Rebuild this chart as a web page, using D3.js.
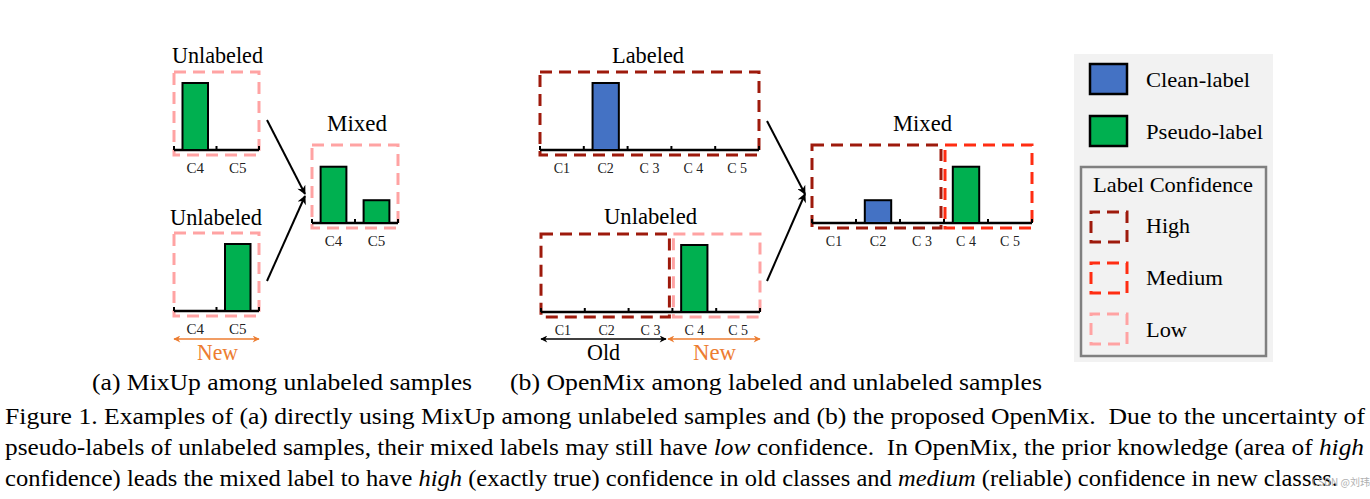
<!DOCTYPE html>
<html><head><meta charset="utf-8">
<script src="https://cdn.jsdelivr.net/npm/d3@7/dist/d3.min.js"></script>
<style>
body{margin:0;background:#fff}
svg text{white-space:pre}
</style>
</head><body>
<svg id="chart" width="1370" height="499" font-family="Liberation Serif, Times New Roman, serif"></svg>
<script>
// ---------------- DATA ----------------
const catsA = ["C4", "C5"];
const catsB = ["C1", "C2", "C 3", "C 4", "C 5"];

const valsUnlabeledA1 = [1, 0];
const valsUnlabeledA2 = [0, 1];
const valsMixedA      = [0.84, 0.34];
const typesA          = ["pseudo", "pseudo"];

const valsLabeledB    = [0, 1, 0, 0, 0];
const typesLabeledB   = ["clean", "clean", "clean", "clean", "clean"];
const valsUnlabeledB  = [0, 0, 0, 1, 0];
const typesUnlabeledB = ["pseudo", "pseudo", "pseudo", "pseudo", "pseudo"];
const valsMixedB      = [0, 0.34, 0, 0.84, 0];
const typesMixedB     = ["clean", "clean", "clean", "pseudo", "pseudo"];

// confidence regions: [first category index, last category index, level]
const confUnlabeledA = [[0, 1, "Low"]];
const confMixedA     = [[0, 1, "Low"]];
const confLabeledB   = [[0, 4, "High"]];
const confUnlabeledB = [[0, 2, "High"], [3, 4, "Low"]];
const confMixedB     = [[0, 2, "High"], [3, 4, "Medium"]];

const legendLabelTypes = ["Clean-label", "Pseudo-label"];
const legendConfLevels = ["High", "Medium", "Low"];

const subCaptions = ["(a) MixUp among unlabeled samples", "(b) OpenMix among labeled and unlabeled samples"];
const captionLines = [
  [["Figure 1. Examples of (a) directly using MixUp among unlabeled samples and (b) the proposed OpenMix.  Due to the uncertainty of", false]],
  [["pseudo-labels of unlabeled samples, their mixed labels may still have ", false], ["low", true],
   [" confidence.  In OpenMix, the prior knowledge (area of ", false], ["high", true]],
  [["confidence) leads the mixed label to have ", false], ["high", true],
   [" (exactly true) confidence in old classes and ", false], ["medium", true],
   [" (reliable) confidence in new classes.", false]]
];

// ---------------- STYLES ----------------
const SERIF = "Liberation Serif";
const barColor  = {clean: "#4472c4", pseudo: "#00b050"};
const confColor = {High: "#9e1a0c", Medium: "#ff2d12", Low: "#ffa3a3"};
const orange = "#ed7d31";

const svg = d3.select("#chart");
const defs = svg.append("defs");
function marker(id, color, w, h) {
  defs.append("marker").attr("id", id).attr("viewBox", "0 0 10 10")
    .attr("refX", 9).attr("refY", 5).attr("markerWidth", w).attr("markerHeight", h)
    .attr("markerUnits", "userSpaceOnUse").attr("orient", "auto-start-reverse")
    .append("path").attr("d", "M0,0 L10,5 L0,10 L3,5 Z").attr("fill", color);
}
marker("arrK", "#000", 11, 9);
marker("arrKs", "#000", 8, 7);
marker("arrO", orange, 8, 7);

function label(s, x0, x1, yb, size, opts = {}) {
  const t = svg.append("text").attr("x", x0).attr("y", yb).attr("font-family", SERIF)
    .attr("font-size", size).attr("fill", opts.fill || "#000")
    .attr("textLength", x1 - x0).attr("lengthAdjust", "spacingAndGlyphs");
  if (opts.italic) t.attr("font-style", "italic");
  t.text(s);
  return t;
}

// ---------------- PANELS ----------------
const panels = [
  {cats: catsA, vals: valsUnlabeledA1, types: typesA, conf: confUnlabeledA, x0: 174, x1: 259, axisY: 150,
   title: "Unlabeled", tx: [172, 263], ty: 63, tick: 15},
  {cats: catsA, vals: valsUnlabeledA2, types: typesA, conf: confUnlabeledA, x0: 174, x1: 259, axisY: 311,
   title: "Unlabeled", tx: [170, 262], ty: 225, tick: 15},
  {cats: catsA, vals: valsMixedA, types: typesA, conf: confMixedA, x0: 312, x1: 398, axisY: 223,
   title: "Mixed", tx: [327, 387], ty: 131, tick: 15},
  {cats: catsB, vals: valsLabeledB, types: typesLabeledB, conf: confLabeledB, x0: 540, x1: 759, axisY: 150,
   title: "Labeled", tx: [612, 684], ty: 63, tick: 14},
  {cats: catsB, vals: valsUnlabeledB, types: typesUnlabeledB, conf: confUnlabeledB, x0: 541, x1: 760, axisY: 312,
   title: "Unlabeled", tx: [604, 697], ty: 224, tick: 14},
  {cats: catsB, vals: valsMixedB, types: typesMixedB, conf: confMixedB, x0: 812, x1: 1032, axisY: 223,
   title: "Mixed", tx: [893, 952], ty: 131, tick: 14}
];

panels.forEach(p => {
  const x = d3.scaleBand().domain(p.cats).range([p.x0, p.x1]).paddingInner(0.4).paddingOuter(0.2);
  const y = d3.scaleLinear().domain([0, 1]).range([p.axisY, p.axisY - 67]);
  const step = x.step();
  const g = svg.append("g");
  const n = p.cats.length;

  // confidence boxes
  g.selectAll("rect.conf").data(p.conf).join("rect").attr("class", "conf")
    .attr("x", d => p.x0 + d[0] * step + (d[0] > 0 ? 1 : 0))
    .attr("width", d => (d[1] - d[0] + 1) * step - (d[0] > 0 ? 1 : 0) - (d[1] < n - 1 ? 3 : 0))
    .attr("y", p.axisY - 78).attr("height", 83)
    .attr("fill", "none").attr("stroke", d => confColor[d[2]])
    .attr("stroke-width", 3).attr("stroke-dasharray", "12 7");

  // axis baseline with boundary ticks
  g.append("line").attr("x1", p.x0).attr("x2", p.x1).attr("y1", p.axisY).attr("y2", p.axisY)
    .attr("stroke", "#000").attr("stroke-width", 2.5);
  g.selectAll("line.tk").data(d3.range(n + 1)).join("line").attr("class", "tk")
    .attr("x1", i => p.x0 + i * step).attr("x2", i => p.x0 + i * step)
    .attr("y1", p.axisY).attr("y2", p.axisY - 4).attr("stroke", "#000").attr("stroke-width", 2);

  // bars
  const data = p.cats.map((c, i) => ({c, v: p.vals[i], t: p.types[i]})).filter(d => d.v > 0);
  g.selectAll("rect.bar").data(data).join("rect").attr("class", "bar")
    .attr("x", d => x(d.c)).attr("width", x.bandwidth())
    .attr("y", d => y(d.v)).attr("height", d => y(0) - y(d.v))
    .attr("fill", d => barColor[d.t]).attr("stroke", "#000").attr("stroke-width", 2);

  // category labels
  g.selectAll("text.cat").data(p.cats).join("text").attr("class", "cat")
    .attr("x", c => x(c) + x.bandwidth() / 2).attr("y", p.axisY + 23).attr("font-family", SERIF)
    .attr("text-anchor", "middle").attr("font-size", p.tick).attr("fill", "#222").text(c => c);

  // title
  label(p.title, p.tx[0], p.tx[1], p.ty, 24);
});

// mixing arrows
const mixArrows = [
  [267, 120, 305, 194], [267, 281, 305, 196],
  [767, 121, 805, 194], [767, 281, 805, 194]
];
svg.selectAll("line.mix").data(mixArrows).join("line").attr("class", "mix")
  .attr("x1", d => d[0]).attr("y1", d => d[1]).attr("x2", d => d[2]).attr("y2", d => d[3])
  .attr("stroke", "#000").attr("stroke-width", 2).attr("marker-end", "url(#arrK)");

// Old / New range arrows
const rangeArrows = [
  {x1: 174, x2: 259, color: orange, m: "arrO", text: "New", tx: [197, 238]},
  {x1: 541, x2: 666, color: "#000", m: "arrKs", text: "Old", tx: [587, 620]},
  {x1: 668, x2: 760, color: orange, m: "arrO", text: "New", tx: [693, 736]}
];
rangeArrows.forEach(a => {
  svg.append("line").attr("x1", a.x1).attr("x2", a.x2).attr("y1", 339).attr("y2", 339)
    .attr("stroke", a.color).attr("stroke-width", 1.5)
    .attr("marker-start", `url(#${a.m})`).attr("marker-end", `url(#${a.m})`);
  label(a.text, a.tx[0], a.tx[1], 360, 24, {fill: a.color});
});

// ---------------- LEGEND ----------------
svg.append("rect").attr("x", 1074).attr("y", 54).attr("width", 199).attr("height", 308).attr("fill", "#f2f2f2");
const typeKeys = ["clean", "pseudo"];
const typeText = [[1146, 1250, 87], [1146, 1263, 139]];
legendLabelTypes.forEach((s, i) => {
  svg.append("rect").attr("x", 1090).attr("y", 64 + i * 52).attr("width", 37).attr("height", 30)
    .attr("fill", barColor[typeKeys[i]]).attr("stroke", "#000").attr("stroke-width", 2.5);
  label(s, typeText[i][0], typeText[i][1], typeText[i][2], 21);
});
svg.append("rect").attr("x", 1081).attr("y", 167).attr("width", 185).attr("height", 189)
  .attr("fill", "none").attr("stroke", "#808080").attr("stroke-width", 2.5);
label("Label Confidence", 1093, 1253, 192, 21);
const confText = [[1146, 1190, 233], [1146, 1223, 285], [1146, 1187, 337]];
legendConfLevels.forEach((s, i) => {
  svg.append("rect").attr("x", 1091).attr("y", 212 + i * 51).attr("width", 36).attr("height", 30)
    .attr("fill", "none").attr("stroke", confColor[s]).attr("stroke-width", 3)
    .attr("stroke-dasharray", "12 7").attr("stroke-dashoffset", 3);
  label(s, confText[i][0], confText[i][1], confText[i][2], 21);
});

// ---------------- CAPTIONS ----------------
label(subCaptions[0], 92, 472, 390, 23);
label(subCaptions[1], 510, 1042, 390, 23);
const lineX = [[5, 1365, 424], [5, 1364, 455], [5, 1338, 486]];
captionLines.forEach((segs, i) => {
  const t = svg.append("text").attr("x", lineX[i][0]).attr("y", lineX[i][2]).attr("font-size", 23)
    .attr("font-family", SERIF)
    .attr("textLength", lineX[i][1] - lineX[i][0]).attr("lengthAdjust", "spacingAndGlyphs");
  segs.forEach(([s, it]) => t.append("tspan").attr("font-style", it ? "italic" : null).text(s));
});
svg.append("text").attr("x", 1312).attr("y", 486).attr("font-size", 10).attr("fill", "#b0b0b0")
  .attr("font-family", "Noto Sans CJK SC").text("CSDN @刘玮");
</script>
</body></html>
